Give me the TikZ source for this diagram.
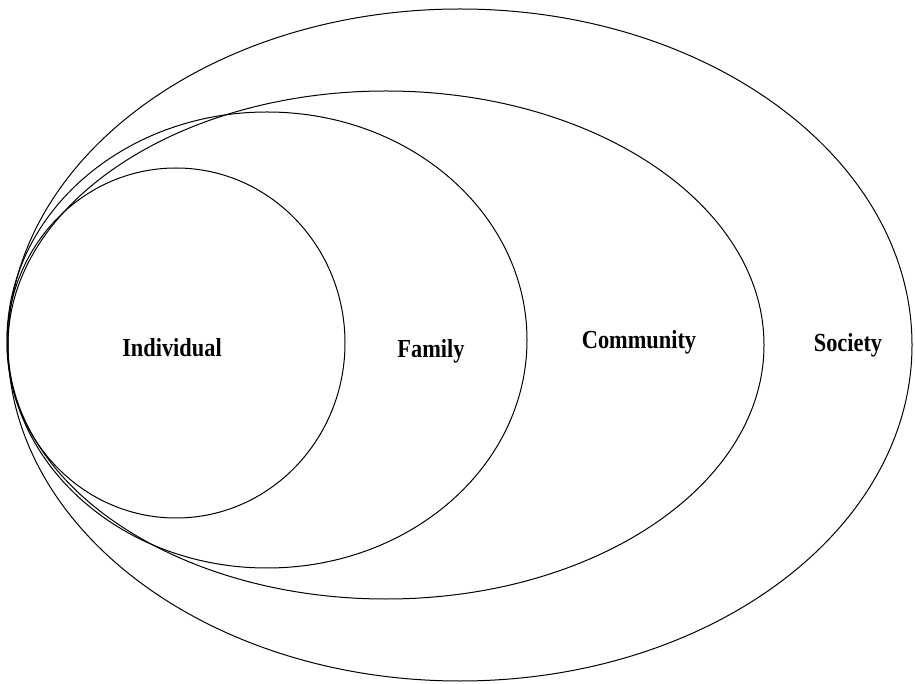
\documentclass[tikz,border=0pt]{standalone}
\usepackage{fontspec}
\usepackage{graphicx}
\setmainfont{Liberation Serif}
\usetikzlibrary{shapes.geometric}

\begin{document}
\begin{tikzpicture}[x=1pt, y=1pt, line cap=round]

% --- styles ---
\tikzset{
  ring/.style={draw=black, line width=1pt, ellipse, inner sep=0pt, outer sep=0pt},
  lbl/.style={anchor=base, inner sep=0pt, font=\bfseries\fontsize{26}{30}\selectfont}
}

% --- page size ---
\useasboundingbox (0,0) rectangle (915,683);

% --- a small macro for each ring: name, cx, cy, width, height, label, lx, ly
\newcommand{\ringitem}[8]{%
  \node[ring, minimum width=#4, minimum height=#5] (#1) at (#2,#3) {};
  \node[lbl] (#1-lbl) at (#7,#8) {\scalebox{0.86}[1]{#6}};
}

% --- rings (outside in) ---
\ringitem{society}{460}{338}{904}{672}{Society}{848}{331}
\ringitem{community}{386}{338}{756}{508}{Community}{639}{334}
\ringitem{family}{267}{343}{520}{456}{Family}{431}{325}
\ringitem{individual}{176}{340}{338}{350}{Individual}{172}{326}

\end{tikzpicture}
\end{document}
